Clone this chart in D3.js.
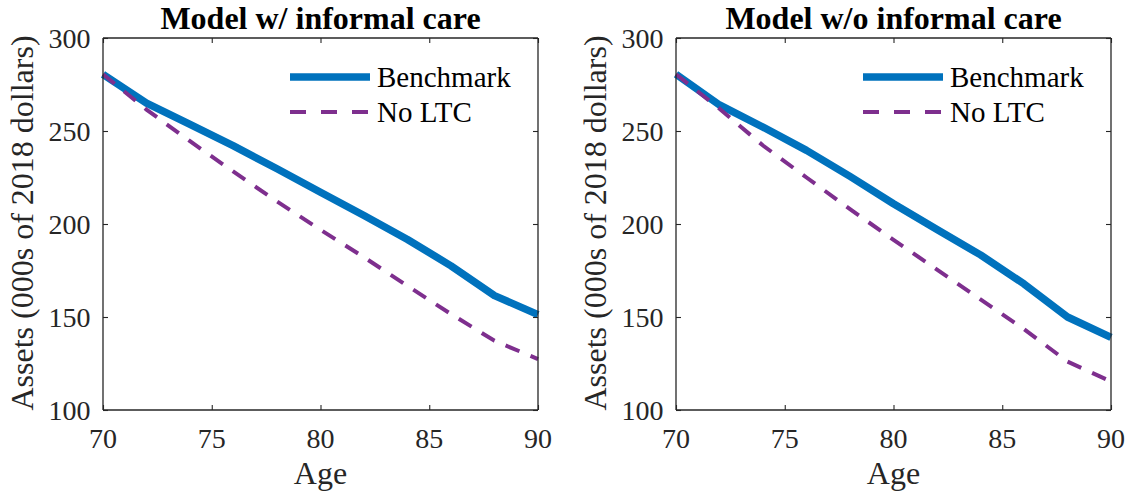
<!DOCTYPE html>
<html>
<head>
<meta charset="utf-8">
<script src="https://cdn.jsdelivr.net/npm/d3@7/dist/d3.min.js"></script>
<style>
  html, body { margin: 0; padding: 0; background: #fff; }
  svg { display: block; }
</style>
</head>
<body>
<svg id="chart" width="1130" height="495"></svg>
<script>
// ---- data ----
const ages = [70, 72, 74, 76, 78, 80, 82, 84, 86, 88, 90];
const withInformalBenchmark = [280.5, 265, 253.5, 242, 229.7, 217.1, 204.6, 191.7, 177.5, 161.5, 151.3];
const withInformalNoLTC     = [280.5, 261.5, 244.5, 228.1, 212.1, 196.9, 182.1, 166.7, 151.6, 137.2, 127.4];
const withoutInformalBenchmark = [280.5, 264, 252.1, 239.6, 225.6, 210.9, 197, 183.4, 167.8, 150, 139];
const withoutInformalNoLTC     = [280.5, 262, 242.2, 225, 208, 191.5, 175.5, 159.5, 143.5, 126, 115.3];
const panelTitles = ["Model w/ informal care", "Model w/o informal care"];
const seriesNames = ["Benchmark", "No LTC"];
const xTicks = [70, 75, 80, 85, 90];
const yTicks = [100, 150, 200, 250, 300];
const xLabel = "Age";
const yLabel = "Assets (000s of 2018 dollars)";

const panels = [
  { title: panelTitles[0], bench: withInformalBenchmark, noltc: withInformalNoLTC, left: 103, right: 538 },
  { title: panelTitles[1], bench: withoutInformalBenchmark, noltc: withoutInformalNoLTC, left: 676, right: 1111 }
];

const plotTop = 38, plotBottom = 410;
const axisColor = "#262626";
const blue = "#0072BD", purple = "#7E2F8E";
const serif = "'Liberation Serif', Tinos, 'Times New Roman', Times, serif";

const svg = d3.select("#chart");

panels.forEach(p => {
  const x = d3.scaleLinear().domain([70, 90]).range([p.left, p.right]);
  const y = d3.scaleLinear().domain([100, 300]).range([plotBottom, plotTop]);
  const g = svg.append("g");

  const line = d3.line().x((d, i) => x(ages[i])).y(d => y(d));

  g.append("path").datum(p.bench)
    .attr("d", line).attr("fill", "none")
    .attr("stroke", blue).attr("stroke-width", 7.5)
    .attr("stroke-linejoin", "round");
  g.append("path").datum(p.noltc)
    .attr("d", line).attr("fill", "none")
    .attr("stroke", purple).attr("stroke-width", 4)
    .attr("stroke-dasharray", "15,12");

  // axes (box with inward ticks)
  const tl = 5;
  const axB = g.append("g").attr("transform", `translate(0,${plotBottom})`)
    .call(d3.axisBottom(x).tickValues(xTicks).tickSize(-tl).tickFormat(() => ""));
  const axT = g.append("g").attr("transform", `translate(0,${plotTop})`)
    .call(d3.axisTop(x).tickValues(xTicks).tickSize(-tl).tickFormat(() => ""));
  const axL = g.append("g").attr("transform", `translate(${p.left},0)`)
    .call(d3.axisLeft(y).tickValues(yTicks).tickSize(-tl).tickFormat(() => ""));
  const axR = g.append("g").attr("transform", `translate(${p.right},0)`)
    .call(d3.axisRight(y).tickValues(yTicks).tickSize(-tl).tickFormat(() => ""));
  [axB, axT, axL, axR].forEach(a => {
    a.selectAll("path.domain").attr("stroke", axisColor).attr("stroke-width", 1.3);
    a.selectAll(".tick line").attr("stroke", axisColor).attr("stroke-width", 1.1);
  });
  axB.select("path.domain").attr("d", `M${p.left},0H${p.right}`);
  axT.select("path.domain").attr("d", `M${p.left},0H${p.right}`);
  axL.select("path.domain").attr("d", `M0,${plotBottom}V${plotTop}`);
  axR.select("path.domain").attr("d", `M0,${plotBottom}V${plotTop}`);

  // tick labels
  g.selectAll("text.xt").data(xTicks).enter().append("text")
    .attr("class", "xt").attr("font-family", serif)
    .attr("x", d => x(d)).attr("y", 448)
    .attr("text-anchor", "middle").attr("font-size", 28).attr("fill", axisColor)
    .text(d => d);
  g.selectAll("text.yt").data(yTicks).enter().append("text")
    .attr("class", "yt").attr("font-family", serif)
    .attr("x", p.left - 12.5).attr("y", d => y(d) + 9.5)
    .attr("text-anchor", "end").attr("font-size", 28).attr("fill", axisColor)
    .text(d => d);

  // axis labels
  g.append("text").attr("font-family", serif)
    .attr("x", (p.left + p.right) / 2).attr("y", 484)
    .attr("text-anchor", "middle").attr("font-size", 32).attr("fill", axisColor)
    .text(xLabel);
  g.append("text").attr("font-family", serif)
    .attr("transform", `translate(${p.left - 70},${(plotTop + plotBottom) / 2 - 1}) rotate(-90)`)
    .attr("text-anchor", "middle").attr("font-size", 32).attr("fill", axisColor)
    .text(yLabel);

  // title
  g.append("text").attr("font-family", serif)
    .attr("x", (p.left + p.right) / 2).attr("y", 29)
    .attr("text-anchor", "middle").attr("font-size", 32).attr("font-weight", "bold")
    .attr("fill", "#000").text(p.title);

  // legend
  const lx0 = p.right - 248, lx1 = p.right - 168;
  const legendRows = [
    { name: seriesNames[0], color: blue, w: 7.5, dash: null, yy: 77 },
    { name: seriesNames[1], color: purple, w: 4, dash: "16,15", yy: 112 }
  ];
  legendRows.forEach(r => {
    const ln = g.append("line").attr("x1", lx0).attr("x2", lx1)
      .attr("y1", r.yy).attr("y2", r.yy)
      .attr("stroke", r.color).attr("stroke-width", r.w);
    if (r.dash) ln.attr("stroke-dasharray", r.dash);
    g.append("text").attr("font-family", serif)
      .attr("x", lx1 + 7).attr("y", r.yy + 10)
      .attr("font-size", 29).attr("fill", "#000").text(r.name);
  });
});
</script>
</body>
</html>
